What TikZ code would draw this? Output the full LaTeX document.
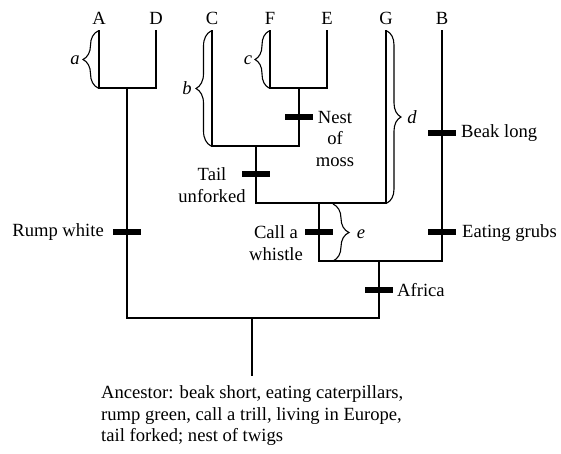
\documentclass[tikz,border=0pt]{standalone}
\usepackage{fontspec}
\setmainfont{Liberation Serif}
\usetikzlibrary{decorations.pathreplacing}
\begin{document}
\begin{tikzpicture}[x=1pt,y=-1pt,
  tree/.style={line width=2.2pt, line cap=rect},
  barmark/.style={fill=black, draw=none, minimum width=28pt, minimum height=6.5pt, inner sep=0pt},
  lbl/.style={inner sep=0pt, font=\fontsize{18.6}{21.5}\selectfont},
  brc/.style={line width=1.1pt, decorate, decoration={brace, amplitude=#1}},
  ital/.style={inner sep=0pt, font=\fontsize{18.6}{21.5}\selectfont\itshape}]
\useasboundingbox (0,0) rectangle (561,453);
% tips
\foreach \n/\x in {A/99,D/156,C/212,F/270,E/327,G/386,B/442}{
  \coordinate (t\n) at (\x,31);
  \node[lbl, anchor=base] (l\n) at (\x,24.5) {\n};
}
% joins
\coordinate (jAD) at (127,88);
\coordinate (jFE) at (299,88);
\coordinate (jCFE) at (256,146);
\coordinate (jCG) at (319,203);
\coordinate (jGB) at (379,261);
\coordinate (root) at (252,318);
\coordinate (anc) at (252,375);
\draw[tree] (tA) |- (jAD) -| (tD);
\draw[tree] (tF) |- (jFE) -| (tE);
\draw[tree] (tC) |- (jCFE) -| (jFE);
\draw[tree] (jCFE) |- (jCG) -| (tG);
\draw[tree] (jCG) |- (jGB) -| (tB);
\draw[tree] (jGB) |- (root) -| (jAD);
\draw[tree] (root) -- (anc);
% character bars
\node[barmark] (bNest) at (299,117) {};
\node[barmark] (bTail) at (256,174) {};
\node[barmark] (bRump) at (127,232) {};
\node[barmark] (bCall) at (319,232) {};
\node[barmark] (bBeak) at (442,133) {};
\node[barmark] (bGrub) at (442,232) {};
\node[barmark] (bAfr) at (379,290) {};
% labels
\node[lbl, align=center, anchor=north] (nest) at (335,111) {Nest\\of\\moss};
\node[lbl, align=center, anchor=north] (tail) at (212,167.5) {Tail\\unforked};
\node[lbl, anchor=mid east] (rump) at (104,234) {Rump white};
\node[lbl, align=center, anchor=north] (call) at (276,225.5) {Call a\\whistle};
\node[lbl, anchor=mid west] (beak) at (461,135) {Beak long};
\node[lbl, anchor=mid west] (grub) at (462,235) {Eating grubs};
\node[lbl, anchor=mid west] (afr) at (397,294) {Africa};
\node[lbl, align=left, anchor=north west] (ancl) at (101,385.5)
  {Ancestor: beak short, eating caterpillars,\\rump green, call a trill, living in Europe,\\tail forked; nest of twigs};
% braces
\coordinate (a1) at (98,88); \coordinate (a2) at (98,31);
\draw[brc=15pt] (a1) -- (a2);
\node[ital] (la) at (75,60) {a};
\coordinate (b1) at (211,146); \coordinate (b2) at (211,31);
\draw[brc=15pt] (b1) -- (b2);
\node[ital] (lb) at (187,88) {b};
\coordinate (c1) at (269,88); \coordinate (c2) at (269,31);
\draw[brc=14pt] (c1) -- (c2);
\node[ital] (lc) at (248,60) {c};
\coordinate (d1) at (387,31); \coordinate (d2) at (387,203);
\draw[brc=14pt] (d1) -- (d2);
\node[ital] (ld) at (412,117) {d};
\coordinate (e1) at (333,204); \coordinate (e2) at (333,261);
\draw[brc=16pt] (e1) -- (e2);
\node[ital] (le) at (361,234) {e};
\end{tikzpicture}
\end{document}
